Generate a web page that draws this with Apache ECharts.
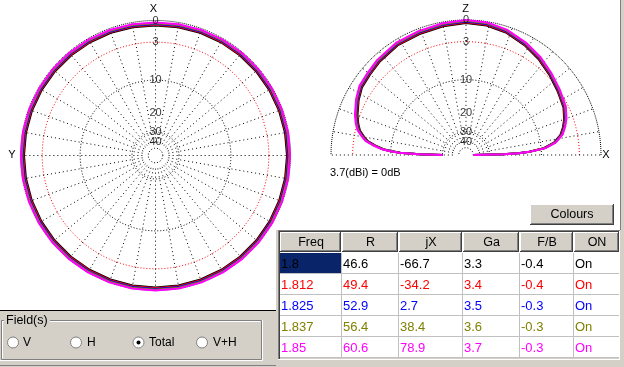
<!DOCTYPE html>
<html><head><meta charset="utf-8">
<script src="https://cdn.jsdelivr.net/npm/echarts@6/dist/echarts.min.js"></script>
<style>html,body{margin:0;padding:0;background:#d4d0c8;}#c{width:624px;height:367px;}</style>
</head><body><div id="c"></div>
<script>
// ---- data ----
const freqs = ['1.8', '1.812', '1.825', '1.837', '1.85'];
const seriesColors = ['#000000', '#ff0000', '#0000ff', '#808000', '#ff00ff'];
const resR = ['46.6', '49.4', '52.9', '56.4', '60.6'];
const resX = ['-66.7', '-34.2', '2.7', '38.4', '78.9'];
const gainGa = ['3.3', '3.4', '3.5', '3.6', '3.7'];
const fbRatio = ['-0.4', '-0.4', '-0.3', '-0.3', '-0.3'];
const onState = ['On', 'On', 'On', 'On', 'On'];
const tableHeaders = ['Freq', 'R', 'jX', 'Ga', 'F/B', 'ON'];
const fieldOptions = ['V', 'H', 'Total', 'V+H'];
const ringDb = [0, -3, -10, -30, -50];
const ringLabels = ['0', '3', '10', '20', '30', '40'];
const ringLabelDb = [0, -3, -10, -20, -30, -40];
const refText = '3.7(dBi) = 0dB';

// azimuth pattern (dB rel. 3.7 dBi), angle 0 = east, counter-clockwise
const azAngles = [0,10,20,30,40,50,60,70,80,90,100,110,120,130,140,150,160,170,180,190,200,210,220,230,240,250,260,270,280,290,300,310,320,330,340,350,360];
const azBlack = [-0.45,-0.45,-0.46,-0.48,-0.5,-0.52,-0.55,-0.58,-0.62,-0.65,-0.62,-0.58,-0.55,-0.52,-0.5,-0.48,-0.46,-0.45,-0.45,-0.44,-0.43,-0.42,-0.41,-0.4,-0.4,-0.4,-0.4,-0.4,-0.4,-0.4,-0.4,-0.4,-0.41,-0.42,-0.43,-0.44,-0.45];
const azRed = [-0.35,-0.35,-0.36,-0.38,-0.4,-0.42,-0.45,-0.48,-0.52,-0.55,-0.52,-0.48,-0.45,-0.42,-0.4,-0.38,-0.36,-0.35,-0.35,-0.34,-0.33,-0.32,-0.31,-0.3,-0.3,-0.3,-0.3,-0.3,-0.3,-0.3,-0.3,-0.3,-0.31,-0.32,-0.33,-0.34,-0.35];
const azBlue = [-0.25,-0.25,-0.26,-0.28,-0.3,-0.32,-0.35,-0.38,-0.42,-0.45,-0.42,-0.38,-0.35,-0.32,-0.3,-0.28,-0.26,-0.25,-0.25,-0.24,-0.23,-0.22,-0.21,-0.2,-0.2,-0.2,-0.2,-0.2,-0.2,-0.2,-0.2,-0.2,-0.21,-0.22,-0.23,-0.24,-0.25];
const azOlive = [-0.15,-0.15,-0.16,-0.18,-0.2,-0.22,-0.25,-0.28,-0.32,-0.35,-0.32,-0.28,-0.25,-0.22,-0.2,-0.18,-0.16,-0.15,-0.15,-0.14,-0.13,-0.12,-0.11,-0.1,-0.1,-0.1,-0.1,-0.1,-0.1,-0.1,-0.1,-0.1,-0.11,-0.12,-0.13,-0.14,-0.15];
const azMagenta = [-0.05,-0.05,-0.06,-0.08,-0.1,-0.12,-0.15,-0.18,-0.22,-0.25,-0.22,-0.18,-0.15,-0.12,-0.1,-0.08,-0.06,-0.05,-0.05,-0.04,-0.03,-0.02,-0.01,0,0,0,0,0,0,0,0,0,-0.01,-0.02,-0.03,-0.04,-0.05];

// elevation pattern (dB rel. 3.7 dBi), elevation angle 0 = right (X), 90 = zenith (Z)
const elAngles = [0,1,2,3,5,8,12,16,20,26,35,44,53,62,72,81,90,100,111,122,133,140,147,153,160,164,167,170,172,174,176,177,178,179,180];
const elBlack = [-50,-22.4,-16.4,-13,-9.4,-7.2,-5.75,-5.0,-4.4,-3.76,-3.25,-2.65,-1.98,-1.4,-0.81,-0.5,-0.4,-0.55,-0.7,-0.76,-1.04,-1.29,-1.45,-1.95,-2.68,-3.2,-3.7,-4.6,-5.3,-6.7,-8.4,-10,-12.4,-18.4,-30];
const elRed = [-50,-22.3,-16.3,-12.9,-9.3,-7.1,-5.65,-4.9,-4.3,-3.66,-3.15,-2.55,-1.88,-1.3,-0.71,-0.4,-0.3,-0.45,-0.6,-0.66,-0.94,-1.19,-1.35,-1.85,-2.58,-3.1,-3.6,-4.5,-5.2,-6.6,-8.3,-9.9,-12.3,-18.3,-30];
const elBlue = [-50,-22.2,-16.2,-12.8,-9.2,-7.0,-5.55,-4.8,-4.2,-3.56,-3.05,-2.45,-1.78,-1.2,-0.61,-0.3,-0.2,-0.35,-0.5,-0.56,-0.84,-1.09,-1.25,-1.75,-2.48,-3.0,-3.5,-4.4,-5.1,-6.5,-8.2,-9.8,-12.2,-18.2,-30];
const elOlive = [-50,-22.1,-16.1,-12.7,-9.1,-6.9,-5.45,-4.7,-4.1,-3.46,-2.95,-2.35,-1.68,-1.1,-0.51,-0.2,-0.1,-0.25,-0.4,-0.46,-0.74,-0.99,-1.15,-1.65,-2.38,-2.9,-3.4,-4.3,-5.0,-6.4,-8.1,-9.7,-12.1,-18.1,-30];
const elMagenta = [-50,-22,-16,-12.6,-9,-6.8,-5.35,-4.6,-4.0,-3.36,-2.85,-2.25,-1.58,-1.0,-0.41,-0.1,0,-0.15,-0.3,-0.36,-0.64,-0.89,-1.05,-1.55,-2.28,-2.8,-3.3,-4.2,-4.9,-6.3,-8.0,-9.6,-12,-18,-30];

const azSeries = [azBlack, azRed, azBlue, azOlive, azMagenta];
const elSeries = [elBlack, elRed, elBlue, elOlive, elMagenta];
const tableCols = [freqs, resR, resX, gainGa, fbRatio, onState];

// ---- helpers ----
const FONT = '"Liberation Sans", Arial, sans-serif';
const arrl = db => Math.pow(0.89, -db / 2); // ARRL log scale, 1 = 0 dB

const series = [];
function ring(pi, db, maxA, color, dash) {
  const d = [];
  for (let a = 0; a <= maxA; a += 2) d.push([arrl(db), a]);
  series.push({type: 'line', coordinateSystem: 'polar', polarIndex: pi, data: d, symbol: 'none',
    silent: true, clip: false, lineStyle: {color, width: 1, type: dash}, z: 1});
}
function spoke(pi, a) {
  series.push({type: 'line', coordinateSystem: 'polar', polarIndex: pi,
    data: [[arrl(-40), a], [1, a]], symbol: 'none', silent: true, clip: false,
    lineStyle: {color: '#000', width: 1, type: [1, 3]}, z: 1});
}
[[0, 360], [1, 180]].forEach(([pi, maxA]) => {
  ringDb.forEach(db => ring(pi, db, maxA, db === -3 ? '#ff0000' : '#000000', db === 0 ? [1, 1] : [1, 2]));
  for (let a = 0; a < (maxA === 360 ? 360 : 181); a += 10) spoke(pi, a);
  series.push({type: 'scatter', coordinateSystem: 'polar', polarIndex: pi,
    data: ringLabelDb.map(d => [arrl(d), 90]), symbolSize: 1, silent: true,
    itemStyle: {color: 'rgba(0,0,0,0)'},
    label: {show: true, position: 'inside', formatter: p => ringLabels[p.dataIndex],
      color: '#000', fontSize: 11, fontFamily: FONT}, z: 10});
});
azSeries.forEach((vals, i) => series.push({type: 'line', coordinateSystem: 'polar', polarIndex: 0,
  data: azAngles.map((a, k) => [arrl(vals[k]), a]), symbol: 'none', silent: true, clip: false,
  lineStyle: {color: seriesColors[i], width: 2}, z: 3 + i}));
elSeries.forEach((vals, i) => series.push({type: 'line', coordinateSystem: 'polar', polarIndex: 1,
  data: elAngles.map((a, k) => [arrl(vals[k]), a]), symbol: 'none', silent: true, clip: false,
  lineStyle: {color: seriesColors[i], width: 2}, z: 3 + i}));

// ---- UI graphics ----
const G = [];
const rect = (x, y, w, h, fill, z) => G.push({type: 'rect', shape: {x, y, width: w, height: h}, style: {fill}, z: z || 0, silent: true});
const line = (x1, y1, x2, y2, stroke, z) => G.push({type: 'line', shape: {x1, y1, x2, y2}, style: {stroke, lineWidth: 1}, z: z || 0, silent: true});
const text = (x, y, t, opts) => G.push({type: 'text', x, y, silent: true, z: (opts && opts.z) || 20,
  style: Object.assign({text: t, fill: '#000', font: '12px ' + FONT, textAlign: 'left', textVerticalAlign: 'middle'}, opts || {})});

rect(0, 0, 620, 230, '#ffffff');
rect(0, 230, 276, 80, '#ffffff');
line(620.5, 0, 620.5, 231, '#808080');
line(0, 310.5, 277, 310.5, '#000000');
line(0, 365.5, 624, 365.5, '#808080');

text(153.5, 9, 'X', {textAlign: 'center', font: '11px ' + FONT});
text(12, 155, 'Y', {textAlign: 'center', font: '11px ' + FONT});
text(465.5, 9, 'Z', {textAlign: 'center', font: '11px ' + FONT});
text(606, 155, 'X', {textAlign: 'center', font: '11px ' + FONT});
text(330, 172.5, refText, {font: '11px ' + FONT});

// Colours button
rect(530, 204, 84, 21, '#d4d0c8', 5);
line(530.5, 204.5, 613, 204.5, '#ffffff', 6);
line(530.5, 204.5, 530.5, 224, '#ffffff', 6);
line(530, 224.5, 614, 224.5, '#404040', 6);
line(613.5, 204, 613.5, 225, '#404040', 6);
line(531, 223.5, 613, 223.5, '#808080', 6);
line(612.5, 205, 612.5, 224, '#808080', 6);
text(572, 214.5, 'Colours', {textAlign: 'center', font: '12.5px ' + FONT});

// table
const colEdges = [279, 341, 398, 462, 519, 573, 619];
rect(276, 230, 348, 137, '#d4d0c8', 4);
rect(280, 232, 339, 126, '#ffffff', 5);
line(278.5, 230, 278.5, 360, '#808080', 6);
line(278, 230.5, 620, 230.5, '#808080', 6);
line(279.5, 231, 279.5, 359, '#404040', 6);
line(279, 231.5, 620, 231.5, '#404040', 6);
line(619.5, 231, 619.5, 360, '#ffffff', 6);
line(278, 359.5, 620, 359.5, '#ffffff', 6);
tableHeaders.forEach((h, c) => {
  const x0 = colEdges[c] + 1, x1 = colEdges[c + 1];
  rect(x0, 232, x1 - x0, 20, '#d4d0c8', 6);
  line(x0 + 0.5, 232, x0 + 0.5, 251, '#ffffff', 7);
  line(x0, 232.5, x1 - 1, 232.5, '#ffffff', 7);
  line(x1 - 0.5, 232, x1 - 0.5, 252, '#404040', 7);
  line(x1 - 1.5, 233, x1 - 1.5, 251, '#808080', 7);
  line(x0, 251.5, x1, 251.5, '#404040', 7);
  line(x0 + 1, 250.5, x1 - 1, 250.5, '#808080', 7);
  text((colEdges[c] + colEdges[c + 1]) / 2 + 1, 242.5, h, {textAlign: 'center', font: '12.5px ' + FONT});
});
freqs.forEach((f, r) => {
  const y0 = 252 + 21 * r;
  if (r === 0) rect(280, y0 + 1, 61, 20, '#0a246a', 6);
  line(280, y0 + 21.5, 619, y0 + 21.5, '#c0c0c0', 7);
  tableCols.forEach((col, c) => {
    const x0 = colEdges[c], x1 = colEdges[c + 1];
    if (c < 5) line(x1 + 0.5, y0 + 1, x1 + 0.5, y0 + 22, '#c0c0c0', 7);
    text(x0 + 2, y0 + 12, col[r], {fill: seriesColors[r], font: '13px ' + FONT});
  });
});

// Field(s) group
line(1.5, 320.5, 261.5, 320.5, '#808080');
line(1.5, 320.5, 1.5, 359.5, '#808080');
line(1.5, 359.5, 261.5, 359.5, '#808080');
line(261.5, 320.5, 261.5, 359.5, '#808080');
line(2.5, 321.5, 260.5, 321.5, '#ffffff');
line(2.5, 321.5, 2.5, 358.5, '#ffffff');
line(0, 360.5, 262.5, 360.5, '#ffffff');
line(262.5, 320, 262.5, 360.5, '#ffffff');
rect(4, 314, 46, 12, '#d4d0c8', 1);
text(6, 320.5, 'Field(s)', {font: '12.5px ' + FONT});
const radioX = [13, 76, 138.5, 202];
const radioTextX = [23, 87, 149, 213];
fieldOptions.forEach((o, i) => {
  G.push({type: 'circle', shape: {cx: radioX[i], cy: 342.5, r: 5.5}, style: {fill: '#ffffff', stroke: '#808080', lineWidth: 1}, z: 2, silent: true});
  if (o === 'Total') G.push({type: 'circle', shape: {cx: radioX[i], cy: 342.5, r: 2}, style: {fill: '#000'}, z: 3, silent: true});
  text(radioTextX[i], 342.5, o, {font: '12px ' + FONT});
});

const hiddenAxis = {axisLine: {show: false}, axisTick: {show: false}, axisLabel: {show: false}, splitLine: {show: false}, splitArea: {show: false}};
const chart = echarts.init(document.getElementById('c'), null, {renderer: 'canvas'});
chart.setOption({
  backgroundColor: '#d4d0c8',
  animation: false,
  polar: [{center: [155.5, 155.5], radius: 148.5}, {center: [466, 155], radius: 148.5}],
  angleAxis: [
    Object.assign({polarIndex: 0, type: 'value', min: 0, max: 360, startAngle: 0, clockwise: false}, hiddenAxis),
    Object.assign({polarIndex: 1, type: 'value', min: 0, max: 360, startAngle: 0, clockwise: false}, hiddenAxis)
  ],
  radiusAxis: [
    Object.assign({polarIndex: 0, type: 'value', min: 0, max: 1.1}, hiddenAxis),
    Object.assign({polarIndex: 1, type: 'value', min: 0, max: 1.1}, hiddenAxis)
  ],
  graphic: {elements: G},
  series
});
</script></body></html>
